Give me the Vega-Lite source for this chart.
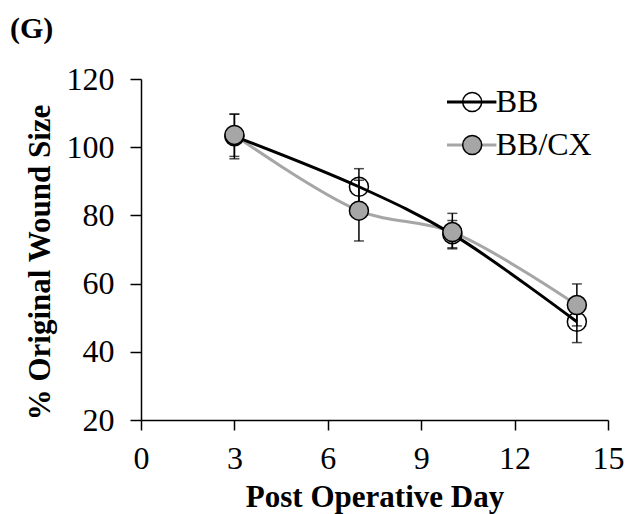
{
  "$schema": "https://vega.github.io/schema/vega-lite/v6.json",
  "autosize": {"type": "none"},
  "width": 467,
  "height": 341,
  "padding": {"left": 141, "top": 79, "right": 21, "bottom": 94},
  "background": "white",
  "title": {"text": "(G)", "anchor": "start", "frame": "group", "font": "Liberation Serif", "fontSize": 30, "fontWeight": "bold", "color": "black", "baseline": "alphabetic", "dx": -131, "dy": 3, "offset": -2},
  "config": {
    "view": {"stroke": null},
    "axis": {"grid": false, "domainColor": "black", "domainWidth": 1.5, "tickColor": "black", "tickWidth": 1.5, "labelColor": "black", "labelFont": "Liberation Serif", "labelFontSize": 32, "titleFont": "Liberation Serif", "titleFontSize": 31, "titleFontWeight": "bold", "titleColor": "black"}
  },
  "data": {"values": [
    {"series": "BB", "day": 3, "mean": 103.2, "lo": 96.6, "hi": 109.7},
    {"series": "BB", "day": 7, "mean": 88.4, "lo": 83.2, "hi": 93.7},
    {"series": "BB", "day": 10, "mean": 74.5, "lo": 70.5, "hi": 78.5},
    {"series": "BB", "day": 14, "mean": 48.8, "lo": 42.7, "hi": 55.0},
    {"series": "BB/CX", "day": 3, "mean": 103.6, "lo": 97.3, "hi": 109.7},
    {"series": "BB/CX", "day": 7, "mean": 81.4, "lo": 72.5, "hi": 90.3},
    {"series": "BB/CX", "day": 10, "mean": 75.1, "lo": 70.2, "hi": 80.6},
    {"series": "BB/CX", "day": 14, "mean": 53.7, "lo": 47.6, "hi": 59.9}
  ]},
  "encoding": {
    "x": {"field": "day", "type": "quantitative", "scale": {"domain": [0, 15], "nice": false, "zero": false},
      "axis": {"values": [0, 3, 6, 9, 12, 15], "tickSize": 10, "labelPadding": 13, "title": "Post Operative Day", "titlePadding": 8, "labelFlush": false, "labelOverlap": false}},
    "y": {"field": "mean", "type": "quantitative", "scale": {"domain": [20, 120], "nice": false, "zero": false},
      "axis": {"values": [20, 40, 60, 80, 100, 120], "tickSize": 11, "labelPadding": 16, "title": "% Original Wound Size", "titlePadding": 10, "titleY": 183, "labelFlush": false, "labelOverlap": false}}
  },
  "layer": [
    {
      "transform": [{"filter": "datum.series === 'BB/CX'"}],
      "mark": {"type": "line", "interpolate": "catmull-rom", "strokeWidth": 3},
      "encoding": {"stroke": {"field": "series", "type": "nominal", "scale": {"domain": ["BB", "BB/CX"], "range": ["black", "#a6a6a6"]},
        "legend": {"orient": "none", "legendX": 314.7, "legendY": 7, "title": null, "padding": 0, "symbolType": "M-2.6,0H2.6", "symbolSize": 361, "symbolStrokeWidth": 3, "labelFont": "Liberation Serif", "labelFontSize": 32, "labelColor": "black", "labelOffset": 8, "rowPadding": 11}}}
    },
    {
      "transform": [{"filter": "datum.series === 'BB'"}],
      "mark": {"type": "line", "interpolate": "catmull-rom", "strokeWidth": 3},
      "encoding": {"stroke": {"field": "series", "type": "nominal"}}
    },
    {
      "mark": {"type": "rule", "color": "black", "strokeWidth": 1.5},
      "encoding": {"y": {"field": "lo", "type": "quantitative"}, "y2": {"field": "hi"}}
    },
    {
      "mark": {"type": "tick", "orient": "horizontal", "color": "black", "size": 10, "thickness": 1.5},
      "encoding": {"y": {"field": "lo", "type": "quantitative"}}
    },
    {
      "mark": {"type": "tick", "orient": "horizontal", "color": "black", "size": 10, "thickness": 1.5},
      "encoding": {"y": {"field": "hi", "type": "quantitative"}}
    },
    {
      "mark": {"type": "point", "shape": "circle", "filled": true, "size": 361, "stroke": "black", "strokeWidth": 1.5, "opacity": 1},
      "encoding": {"fill": {"field": "series", "type": "nominal", "scale": {"range": ["transparent", "#a6a6a6"]},
        "legend": {"orient": "none", "legendX": 315.2, "legendY": 7, "title": null, "padding": 0, "symbolType": "circle", "symbolSize": 361, "symbolStrokeColor": "black", "symbolStrokeWidth": 1.5, "symbolOpacity": 1, "labelFont": "Liberation Serif", "labelFontSize": 32, "labelOpacity": 0, "labelOffset": 8, "rowPadding": 11}}}
    }
  ]
}
